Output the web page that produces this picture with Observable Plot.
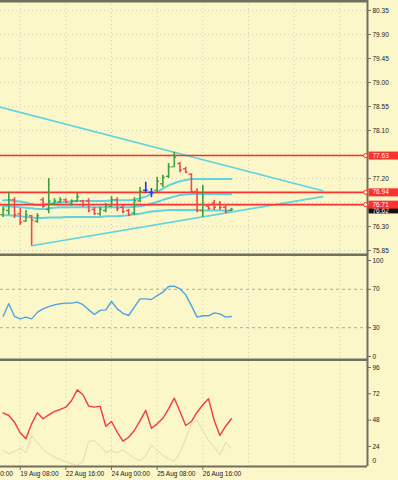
<!DOCTYPE html>
<html><head><meta charset="utf-8">
<script src="https://cdn.jsdelivr.net/npm/d3@7"></script>
<script src="https://cdn.jsdelivr.net/npm/@observablehq/plot@0.6"></script>
<style>
html,body{margin:0;padding:0;background:#fbf7c9;}
#chart{width:398px;height:480px;overflow:hidden;background:#fbf7c9;}
#chart svg{display:block;}
</style></head><body><div id="chart"></div>
<script>
// ---- data (H4 bars, 41 bars) ----
const high  = [76.66,76.94,76.84,76.64,76.60,76.51,76.54,76.84,77.20,76.82,76.84,76.82,76.80,76.92,76.79,76.82,76.66,76.66,76.73,76.86,76.84,76.69,76.62,76.84,77.03,77.13,77.01,77.22,77.26,77.48,77.69,77.50,77.41,77.29,77.01,77.07,76.69,76.79,76.77,76.71,76.64];
const low   = [76.47,76.51,76.45,76.32,76.38,75.94,76.36,76.64,76.54,76.69,76.73,76.73,76.68,76.75,76.66,76.56,76.51,76.49,76.56,76.66,76.58,76.54,76.49,76.51,76.75,76.92,76.84,76.94,77.03,77.20,77.41,77.31,77.29,76.92,76.56,76.47,76.60,76.60,76.60,76.54,76.58];
const open  = [76.52,76.60,76.80,76.54,76.40,76.50,76.40,76.80,76.62,76.72,76.76,76.80,76.72,76.78,76.78,76.78,76.62,76.54,76.60,76.68,76.80,76.66,76.60,76.55,76.78,76.98,76.94,76.98,77.10,77.24,77.42,77.48,77.38,77.28,76.96,76.60,76.68,76.74,76.72,76.66,76.60];
const close = [76.62,76.80,76.52,76.38,76.52,76.42,76.50,76.68,76.78,76.78,76.80,76.75,76.78,76.86,76.70,76.60,76.54,76.62,76.70,76.80,76.64,76.58,76.52,76.78,76.96,76.98,76.94,77.15,77.22,77.42,77.60,77.36,77.32,76.96,76.60,76.70,76.64,76.66,76.66,76.58,76.62];
const bandUpper  = [76.79,76.79,76.78,76.77,76.75,76.72,76.70,76.71,76.73,76.74,76.75,76.76,76.77,76.78,76.78,76.78,76.78,76.78,76.78,76.79,76.79,76.79,76.79,76.80,76.83,76.86,76.91,76.95,77.01,77.07,77.11,77.15,77.17,77.19,77.19,77.19,77.19,77.19,77.19,77.19,77.19];
const bandMiddle = [76.68,76.68,76.67,76.66,76.65,76.64,76.63,76.63,76.64,76.65,76.66,76.66,76.66,76.66,76.66,76.66,76.66,76.66,76.66,76.66,76.66,76.66,76.66,76.67,76.68,76.70,76.73,76.76,76.80,76.83,76.86,76.89,76.90,76.91,76.91,76.91,76.91,76.91,76.91,76.91,76.91];
const bandLower  = [76.51,76.51,76.50,76.49,76.48,76.47,76.46,76.46,76.47,76.47,76.47,76.48,76.48,76.48,76.48,76.48,76.48,76.48,76.49,76.49,76.49,76.50,76.51,76.53,76.54,76.56,76.58,76.59,76.60,76.61,76.61,76.61,76.61,76.61,76.61,76.60,76.60,76.60,76.60,76.60,76.60];
const rsi = [42,55,41.7,39.2,41,39.2,46,49.6,52,53.8,54.9,55.6,55.6,56.6,54,48.6,43.7,48,48.6,57.3,49.6,45,42.7,51.4,60,60,59.4,63.5,67,72.9,73.2,70.5,64.2,53,41,42.4,42.4,45.5,44.4,41,41.7];
const stochMain = [54.7,52.2,46.1,36.4,30.9,44.6,54.7,49.2,52.8,55.9,57.7,59.8,65.9,75.6,71.1,60.7,59.8,60.7,42.4,46.7,37,28.8,32.4,38.5,47.6,56.8,40.6,44.6,49.7,58.3,68,55.9,43.1,46.7,55.2,62,67.4,47.6,34,42.4,49.2];
const stochSignal = [20.3,17.3,19.4,22.4,18.2,34,27.3,21.2,17.3,14.2,12.1,10.2,8.1,6.6,10.2,28.5,29.4,24.8,18.7,20.3,18.2,20.9,17.3,13.2,11.1,15.7,25.5,20.3,15.7,12.7,10.2,18.7,30.9,44.6,47.6,38.5,29.4,23.3,16.3,27.3,22.4];
const levels = [77.63, 76.94, 76.71];
const currentPrice = 76.62;
const trendDown = [{i: -1, p: 78.55}, {i: 56, p: 76.97}];
const trendUp = [{i: 5, p: 75.94}, {i: 56, p: 76.86}];
const priceTicks = [80.35, 79.90, 79.45, 79.00, 78.55, 78.10, 77.20, 76.30, 75.85];
const priceGrid = [80.35, 79.90, 79.45, 79.00, 78.55, 78.10, 77.65, 77.20, 76.75, 76.30, 75.85];
const rsiTicks = [0, 30, 70, 100];
const rsiLevels = [30, 70];
const stochTicks = [24, 48, 72, 96];
const timeTickIdx = [-5, 3, 11, 19, 27, 35];
const timeTickLabels = ["18 Aug 00:00", "19 Aug 08:00", "22 Aug 16:00", "24 Aug 00:00", "25 Aug 08:00", "26 Aug 16:00"];
const gridIdx = [3, 11, 19, 27, 35, 43, 51, 59];

// ---- styling ----
const BG = "#fbf7c9", BORDER = "#707060", GRID = "#d4d0b2";
const UP = "#3f9f3f", DOWN = "#f04848", DOJI = "#2a35ee";
const CYAN = "#62d3de", RED = "#ff3030";
const FONT = "Liberation Sans, Arial, sans-serif";
const X0 = -0.456, X1 = 63.86;
const common = {width: 398, marginLeft: 0, marginRight: 31, marginTop: 0,
  style: {background: "transparent", fontFamily: FONT, fontSize: "6.5px", color: "#222", overflow: "hidden"}};
const xOpt = {domain: [X0, X1], axis: null};

const bars = high.map((h, i) => ({i, high: h, low: low[i], open: open[i], close: close[i],
  col: close[i] > open[i] ? UP : close[i] < open[i] ? DOWN : DOJI}));
const series = (arr) => arr.map((v, i) => ({i, v}));

const boxSym = {draw(ctx) { ctx.moveTo(1, -4); ctx.lineTo(31, -4); ctx.lineTo(31, 4); ctx.lineTo(1, 4); ctx.closePath(); }};

const P0 = 75.7375, P1 = 80.5375;
const price = Plot.plot({
  ...common, height: 256, marginBottom: 0,
  x: xOpt, y: {domain: [P0, P1], axis: null}, color: {type: "identity"},
  marks: [
    Plot.ruleY(priceGrid, {stroke: GRID, strokeDasharray: "1,3"}),
    Plot.ruleX(gridIdx, {stroke: GRID, strokeDasharray: "1,3"}),
    Plot.line(series(bandUpper), {x: "i", y: "v", stroke: CYAN, strokeWidth: 2}),
    Plot.line(series(bandMiddle), {x: "i", y: "v", stroke: CYAN, strokeWidth: 2}),
    Plot.line(series(bandLower), {x: "i", y: "v", stroke: CYAN, strokeWidth: 2}),
    Plot.line(trendDown, {x: "i", y: "p", stroke: CYAN, strokeWidth: 1.6, clip: true}),
    Plot.line(trendUp, {x: "i", y: "p", stroke: CYAN, strokeWidth: 1.6, clip: true}),
    Plot.ruleY(levels, {stroke: RED, strokeWidth: 1.6}),
    Plot.ruleX(bars, {x: "i", y1: "low", y2: "high", stroke: "col", strokeWidth: 1.6}),
    Plot.ruleY(bars, {y: "open", x1: d => d.i - 0.4, x2: "i", stroke: "col", strokeWidth: 1.4}),
    Plot.ruleY(bars, {y: "close", x1: "i", x2: d => d.i + 0.4, stroke: "col", strokeWidth: 1.4}),
    Plot.ruleY([P1], {stroke: BORDER, strokeWidth: 4}),
    Plot.ruleY([P0], {stroke: BORDER, strokeWidth: 3, dy: -1.5}),
    Plot.ruleX([X1], {stroke: BORDER, strokeWidth: 2}),
    Plot.axisY({anchor: "right", ticks: priceTicks, tickFormat: d3.format(".2f"), tickSize: 3, tickPadding: 2, fontSize: 6.5, label: null, stroke: BORDER}),
    Plot.dot(levels, {y: d => d, frameAnchor: "right", dx: -2, r: 2, stroke: RED, fill: BG, strokeWidth: 1}),
    Plot.dot([currentPrice], {y: d => d, frameAnchor: "right", symbol: boxSym, fill: "#111", stroke: "none"}),
    Plot.text([currentPrice], {y: d => d, text: d => d.toFixed(2), frameAnchor: "right", dx: 5, dy: 1, textAnchor: "start", fill: "#fff", fontSize: 6.5}),
    Plot.dot(levels, {y: d => d, frameAnchor: "right", symbol: boxSym, fill: RED, stroke: "none"}),
    Plot.text(levels, {y: d => d, text: d => d.toFixed(2), frameAnchor: "right", dx: 5, textAnchor: "start", fill: "#fff", fontSize: 6.5})
  ]
});

const R0 = -5.21, R1 = 104.17;
const rsiPlot = Plot.plot({
  ...common, height: 105, marginBottom: 0,
  x: xOpt, y: {domain: [R0, R1], axis: null},
  marks: [
    Plot.ruleX(gridIdx, {stroke: GRID, strokeDasharray: "1,3"}),
    Plot.ruleY(rsiLevels, {stroke: "#aeac98", strokeDasharray: "3,3"}),
    Plot.line(series(rsi), {x: "i", y: "v", stroke: "#4fa3e3", strokeWidth: 1.4}),
    Plot.ruleY([R0], {stroke: BORDER, strokeWidth: 3, dy: -1.5}),
    Plot.ruleX([X1], {stroke: BORDER, strokeWidth: 2}),
    Plot.axisY({anchor: "right", ticks: rsiTicks, tickSize: 3, tickPadding: 2, fontSize: 6.5, label: null, stroke: BORDER})
  ]
});

const S0 = 5.67, S1 = 101.47;
const tickMap = new Map(timeTickIdx.map((t, k) => [t, timeTickLabels[k]]));
const stoch = Plot.plot({
  ...common, height: 119, marginBottom: 14,
  x: xOpt, y: {domain: [S0, S1], axis: null},
  marks: [
    Plot.ruleX(gridIdx, {stroke: GRID, strokeDasharray: "1,3"}),
    Plot.line(series(stochSignal), {x: "i", y: "v", stroke: "#e0d9bb", strokeWidth: 1}),
    Plot.line(series(stochMain), {x: "i", y: "v", stroke: "#f23c3c", strokeWidth: 1.4}),
    Plot.ruleY([S0], {stroke: BORDER, strokeWidth: 2}),
    Plot.ruleX([X1], {stroke: BORDER, strokeWidth: 2}),
    Plot.axisY({anchor: "right", ticks: stochTicks, tickSize: 3, tickPadding: 2, fontSize: 6.5, label: null, stroke: BORDER}),
    Plot.text(["0"], {frameAnchor: "bottom-right", dx: 5, dy: -4, textAnchor: "start", fontSize: 6.5, fill: "#222"}),
    Plot.axisX({anchor: "bottom", ticks: timeTickIdx, tickFormat: d => tickMap.get(d), tickSize: 4, tickPadding: 1, textAnchor: "start", fontSize: 6.5, label: null, stroke: BORDER})
  ]
});

const root = document.getElementById("chart");
root.append(price, rsiPlot, stoch);
</script></body></html>
